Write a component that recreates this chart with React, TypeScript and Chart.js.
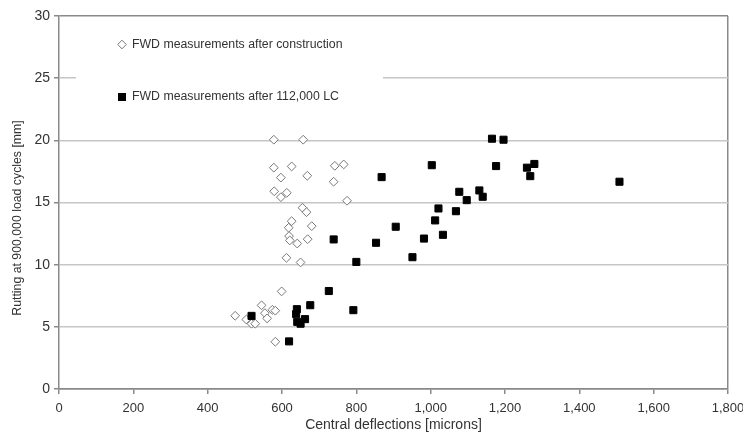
import React, { useEffect, useRef } from "react";
import { Chart, registerables } from "chart.js";

Chart.register(...registerables);

// FWD measurements after construction (diamonds)
const constructionX = [
  578, 657, 578, 626, 742, 766, 597, 668, 739, 579, 597, 613, 775, 655, 666, 626,
  680, 618, 619, 621, 641, 669, 612, 650, 599, 545, 574, 582, 554, 560, 474, 504,
  518, 528, 582,
];
const constructionY = [
  20.05, 20.05, 17.8, 17.9, 17.95, 18.06, 17.0, 17.15, 16.67, 15.9, 15.43, 15.78,
  15.14, 14.58, 14.22, 13.5, 13.1, 12.97, 12.3, 11.95, 11.7, 12.05, 10.55, 10.18,
  7.85, 6.73, 6.37, 6.3, 6.1, 5.68, 5.89, 5.59, 5.25, 5.25, 3.8,
];

// FWD measurements after 112,000 LC (squares)
const afterLcX = [
  518, 619, 640, 638, 641, 650, 662, 676, 726, 792, 739, 800, 853, 868, 906, 951,
  982, 1003, 1012, 1021, 1033, 1068, 1077, 1097, 1131, 1140, 1165, 1196, 1176, 1259,
  1279, 1268, 1508,
];
const afterLcY = [
  5.88, 3.83, 6.42, 6.02, 5.4, 5.25, 5.62, 6.74, 7.88, 6.34, 12.03, 10.22, 11.76,
  17.04, 13.05, 10.6, 12.1, 18.0, 13.56, 14.52, 12.4, 14.3, 15.86, 15.19, 15.97,
  15.46, 20.13, 20.05, 17.93, 17.8, 18.1, 17.12, 16.67,
];

const xTicks = [0, 200, 400, 600, 800, 1000, 1200, 1400, 1600, 1800];
const yTicks = [0, 5, 10, 15, 20, 25, 30];
const seriesLabels = [
  "FWD measurements after construction",
  "FWD measurements after 112,000 LC",
];
const xTitle = "Central deflections [microns]";
const yTitle = "Rutting at 900,000 load cycles [mm]";

const FONT = '"Liberation Sans", Arial, Helvetica, sans-serif';
const TEXT = "#333333";
const AXIS = "#8a8a8a";
const GRID = "#c6c6c6";

const overlayPlugin = {
  id: "overlay",
  beforeDatasetsDraw(chart: any) {
    const ctx = chart.ctx as CanvasRenderingContext2D;
    ctx.save();
    // legend box covering the gridline
    ctx.fillStyle = "#ffffff";
    ctx.fillRect(76, 28, 307, 82);
    ctx.font = `12.3px ${FONT}`;
    ctx.textBaseline = "middle";
    ctx.textAlign = "left";
    // diamond marker
    const dx = 122, dy = 44.5, r = 4.3;
    ctx.beginPath();
    ctx.moveTo(dx, dy - r);
    ctx.lineTo(dx + r, dy);
    ctx.lineTo(dx, dy + r);
    ctx.lineTo(dx - r, dy);
    ctx.closePath();
    ctx.fillStyle = "#fff";
    ctx.fill();
    ctx.strokeStyle = "#777";
    ctx.lineWidth = 1;
    ctx.stroke();
    ctx.fillStyle = TEXT;
    ctx.fillText(seriesLabels[0], 132, dy);
    // square marker
    const sx = 122, sy = 97;
    ctx.fillStyle = "#000";
    ctx.fillRect(sx - 4, sy - 4, 8, 8);
    ctx.fillStyle = TEXT;
    ctx.fillText(seriesLabels[1], 132, sy);
    ctx.restore();
  },
  afterDraw(chart: any) {
    const ctx = chart.ctx as CanvasRenderingContext2D;
    ctx.save();
    ctx.translate(18, 218);
    ctx.rotate(-Math.PI / 2);
    ctx.font = `12.3px ${FONT}`;
    ctx.fillStyle = TEXT;
    ctx.textAlign = "center";
    ctx.textBaseline = "middle";
    ctx.fillText(yTitle, 0, 0);
    ctx.restore();
  },
};

export default function App() {
  const ref = useRef<HTMLCanvasElement>(null);

  useEffect(() => {
    if (!ref.current) return;
    const chart = new Chart(ref.current, {
      type: "scatter",
      data: {
        datasets: [
          {
            label: seriesLabels[0],
            data: constructionX.map((x, i) => ({ x, y: constructionY[i] })),
            pointStyle: "rectRot",
            radius: 4.4,
            backgroundColor: "#ffffff",
            borderColor: "#777777",
            borderWidth: 1,
            order: 2,
          },
          {
            label: seriesLabels[1],
            data: afterLcX.map((x, i) => ({ x, y: afterLcY[i] })),
            pointStyle: "rect",
            radius: 5,
            backgroundColor: "#000000",
            borderColor: "#000000",
            borderWidth: 1,
            order: 1,
          },
        ],
      },
      options: {
        responsive: false,
        animation: false,
        events: [],
        layout: { padding: { top: 16, right: 15, left: 0, bottom: 0 } },
        plugins: {
          legend: { display: false },
          tooltip: { enabled: false },
        },
        scales: {
          x: {
            type: "linear",
            min: 0,
            max: 1800,
            afterBuildTicks: (s: any) => {
              s.ticks = xTicks.map((v) => ({ value: v }));
            },
            afterFit: (s: any) => {
              s.height = 46;
              s.paddingLeft = 0;
              s.paddingRight = 0;
            },
            ticks: {
              font: { family: FONT, size: 13 },
              color: TEXT,
              padding: 7,
              maxRotation: 0,
              autoSkip: false,
              callback: (v: any) => Number(v).toLocaleString("en-US"),
            },
            grid: {
              color: (c: any) => (c.tick && c.tick.value === 1800 ? AXIS : "rgba(0,0,0,0)"),
              tickColor: AXIS,
              tickLength: 5,
              lineWidth: 1.5,
            },
            border: { color: AXIS, width: 1.5 },
            title: {
              display: true,
              text: xTitle,
              font: { family: FONT, size: 14 },
              color: TEXT,
              padding: { top: 0, bottom: 1 },
            },
          },
          y: {
            type: "linear",
            min: 0,
            max: 30,
            afterBuildTicks: (s: any) => {
              s.ticks = yTicks.map((v) => ({ value: v }));
            },
            afterFit: (s: any) => {
              s.width = 59;
              s.paddingTop = 0;
              s.paddingBottom = 0;
            },
            ticks: {
              font: { family: FONT, size: 14 },
              color: TEXT,
              padding: 4,
            },
            grid: {
              color: (c: any) =>
                c.tick && (c.tick.value === 30 || c.tick.value === 0) ? AXIS : GRID,
              tickColor: AXIS,
              tickLength: 5,
              lineWidth: 1.5,
            },
            border: { color: AXIS, width: 1.5 },
          },
        },
      },
      plugins: [overlayPlugin],
    });
    return () => chart.destroy();
  }, []);

  return (
    <div style={{ position: "fixed", left: 0, top: 0, width: 743, height: 435, background: "#fff" }}>
      <canvas ref={ref} width={743} height={435} />
    </div>
  );
}
